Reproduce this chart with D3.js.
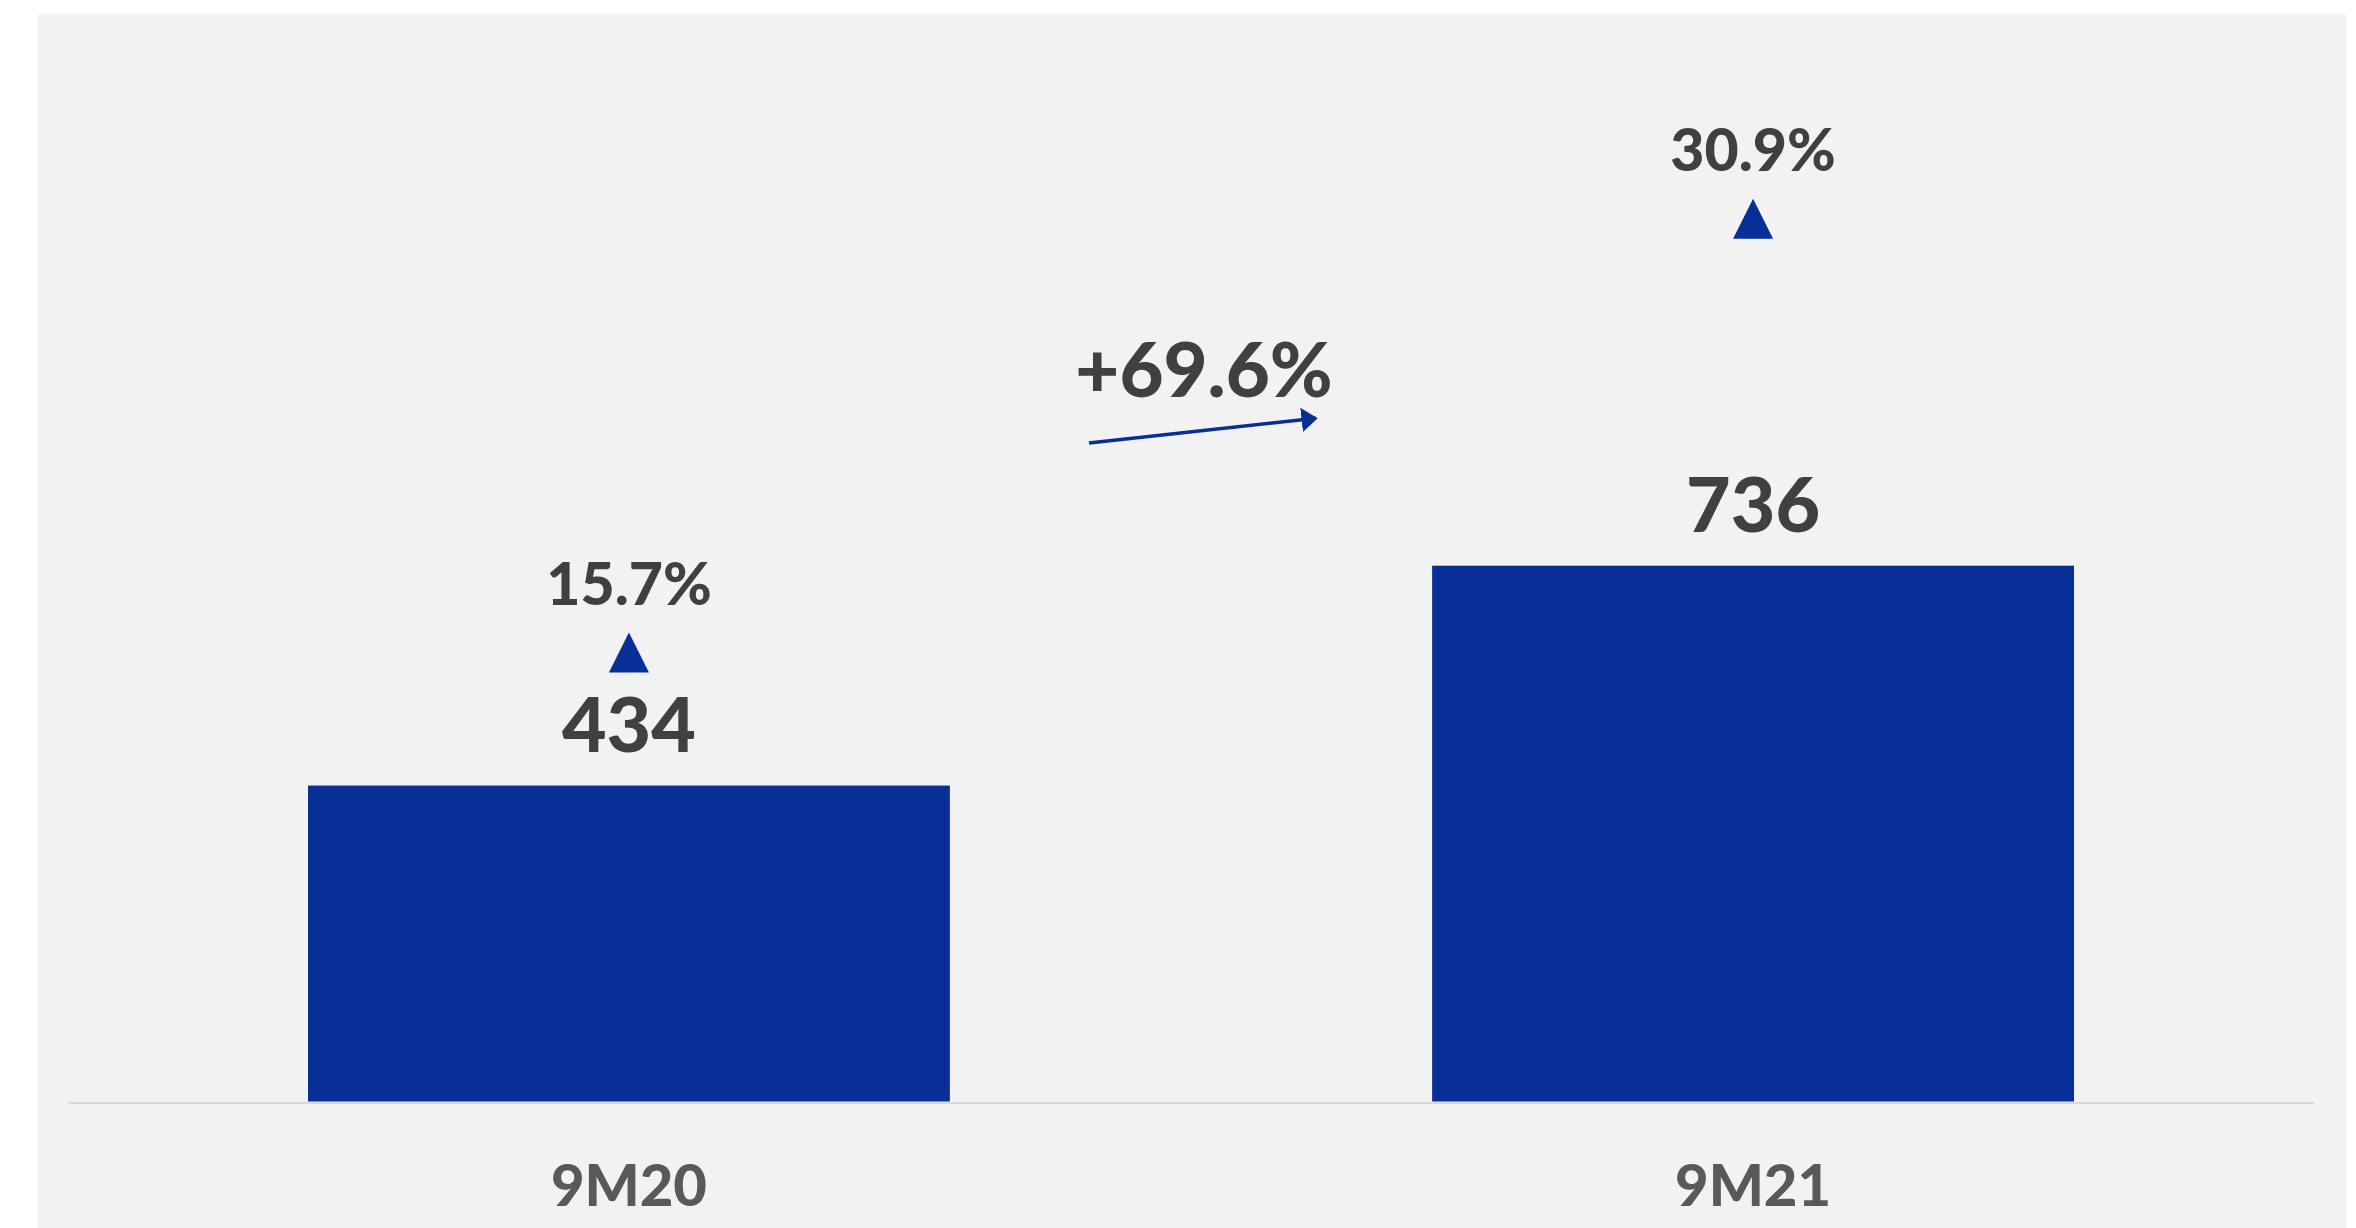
<!DOCTYPE html>
<html>
<head>
<meta charset="utf-8">
<script src="https://cdn.jsdelivr.net/npm/d3@7"></script>
<style>
  html, body { margin: 0; padding: 0; background: #ffffff; }
  svg { display: block; }
  text { font-family: Lato, "Open Sans", sans-serif; font-weight: 900; }
</style>
</head>
<body>
<svg id="chart" width="2356" height="1228"></svg>
<script>
// Period revenue figures
const categories = ["9M20", "9M21"];
const values = [434, 736];
const growthLabels = ["15.7%", "30.9%"];
const changeLabel = "+69.6%";

const W = 2356, H = 1228;
const baseY = 1101.5;
const barColor = "#082F97";
const textDark = "#404040";
const textAxis = "#595959";

const svg = d3.select("#chart");

// grey chart panel
svg.append("rect")
  .attr("x", 38).attr("y", 14)
  .attr("width", 2308).attr("height", H - 14)
  .attr("fill", "#f2f2f2");

const x = d3.scaleBand()
  .domain(categories)
  .range([68, 2314])
  .paddingInner(0.429)
  .paddingOuter(0.2135);

const y = d3.scaleLinear()
  .domain([0, 1500])
  .range([baseY, baseY - 1092]);

const rows = categories.map((c, i) => ({ cat: c, value: values[i], growth: growthLabels[i], i }));

// bars
svg.append("g").selectAll("rect")
  .data(rows)
  .join("rect")
  .attr("x", d => x(d.cat))
  .attr("y", d => y(d.value))
  .attr("width", x.bandwidth())
  .attr("height", d => y(0) - y(d.value))
  .attr("fill", barColor);

// category axis
const axis = svg.append("g")
  .attr("transform", `translate(0,${baseY + 1})`)
  .call(d3.axisBottom(x).tickSize(0).tickSizeOuter(0));
axis.select(".domain").attr("stroke", "#d9d9d9").attr("stroke-width", 2);
axis.selectAll(".tick text")
  .attr("y", 103.5)
  .attr("dy", null)
  .attr("fill", textAxis)
  .style("font-size", "58px")
  .style("font-family", "Lato, 'Open Sans', sans-serif")
  .style("font-weight", 900);

const cx = d => x(d.cat) + x.bandwidth() / 2;

// value labels above bars
svg.append("g").selectAll("text")
  .data(rows)
  .join("text")
  .attr("x", cx)
  .attr("y", d => y(d.value) - 34)
  .attr("text-anchor", "middle")
  .attr("fill", textDark)
  .style("font-size", "77px")
  .text(d => d.value);

// growth markers: triangle plus percentage, lifted above each value label
const growthLift = [79, 293];
const tri = 40;
const growth = svg.append("g").selectAll("g")
  .data(rows)
  .join("g")
  .attr("transform", d => `translate(${cx(d)},${y(d.value) - 34 - growthLift[d.i]})`);
growth.append("path")
  .attr("d", `M${-tri / 2},0 L${tri / 2},0 L0,${-tri} Z`)
  .attr("fill", barColor);
growth.append("text")
  .attr("y", -68)
  .attr("text-anchor", "middle")
  .attr("fill", textDark)
  .style("font-size", "59px")
  .text(d => d.growth);

// period-over-period change arrow
const midX = (x(categories[0]) + x.bandwidth() + x(categories[1])) / 2 + 13;
svg.append("defs").append("marker")
  .attr("id", "head")
  .attr("viewBox", "0 0 10 10")
  .attr("preserveAspectRatio", "none")
  .attr("refX", 9).attr("refY", 5)
  .attr("markerWidth", 4.6).attr("markerHeight", 7)
  .attr("markerUnits", "strokeWidth")
  .attr("orient", "auto")
  .append("path")
  .attr("d", "M0,0 L10,5 L0,10 Z")
  .attr("fill", barColor);

svg.append("line")
  .attr("x1", midX - 115).attr("y1", 443)
  .attr("x2", midX + 112).attr("y2", 418.3)
  .attr("stroke", barColor)
  .attr("stroke-width", 3.5)
  .attr("marker-end", "url(#head)");

svg.append("text")
  .attr("x", midX)
  .attr("y", 397)
  .attr("text-anchor", "middle")
  .attr("fill", textDark)
  .style("font-size", "76px")
  .text(changeLabel);
</script>
</body>
</html>
